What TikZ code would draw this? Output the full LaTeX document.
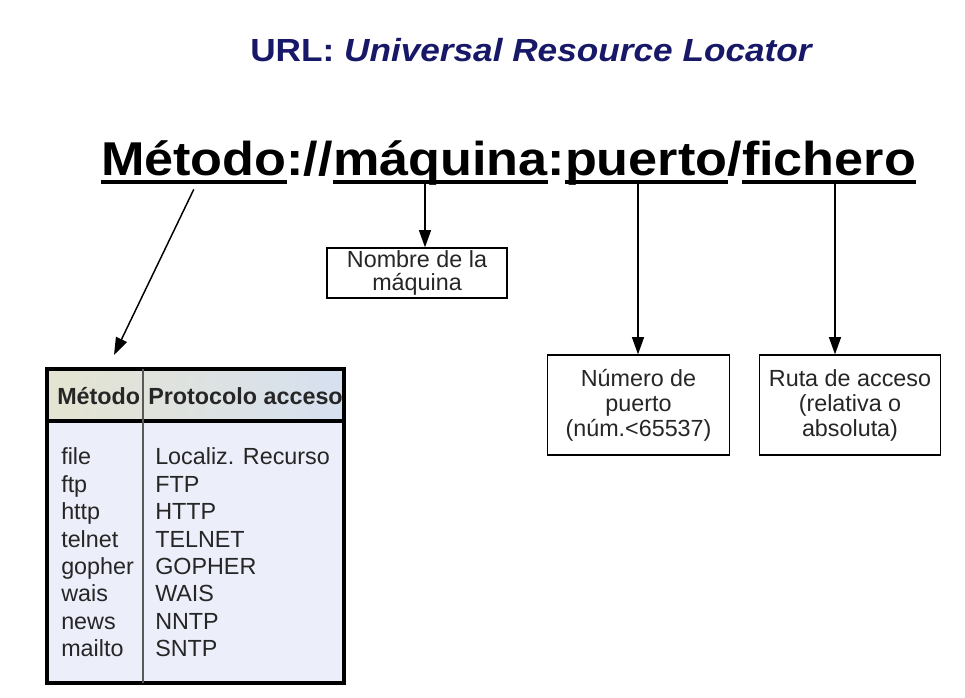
\documentclass[tikz,border=0pt]{standalone}
\usepackage{fontspec}
\setmainfont{Liberation Sans}
\newfontfamily\widefont{Liberation Sans}[FakeStretch=1.1]
\usetikzlibrary{positioning,arrows.meta}
\definecolor{urlblue}{RGB}{24,24,104}
\definecolor{cabecera}{RGB}{229,228,209}
\definecolor{cabecera2}{RGB}{214,224,240}
\definecolor{cuerpo}{RGB}{236,238,250}

\tikzstyle{parte} = [font=\widefont\bfseries\fontsize{35.6}{40}\selectfont,inner sep=0pt,outer sep=0pt]
\tikzstyle{caja} = [align=center,draw=black,line width=0.9pt,font=\fontsize{17.5}{18.75}\selectfont,rectangle,text centered,text=black!85]
\tikzstyle{celda} = [anchor=base west,inner sep=0pt,font=\fontsize{17.5}{20}\selectfont,text=black!85]
\tikzstyle{flecha} = [line width=1.1pt,-{Triangle[length=13pt,width=9pt]}]
\tikzstyle{subraya} = [line width=3pt]

\begin{document}
\begin{tikzpicture}[x=0.75pt,y=-0.75pt]
	\useasboundingbox [fill=white] (0,0) rectangle (965,698);
	% titulo
	\node (titulo) [anchor=base west,inner sep=0pt,text=urlblue,font=\widefont\bfseries\fontsize{24}{27}\selectfont] at (250,62) {URL: \textit{Universal Resource Locator}};
	% la URL
	\node (metodo) [parte,anchor=base west] at (101,176) {Método};
	\node (sep1) [parte,base right=0pt of metodo] {://};
	\node (maquina) [parte,base right=0pt of sep1] {máquina};
	\node (sep2) [parte,base right=0pt of maquina] {:};
	\node (puerto) [parte,base right=0pt of sep2] {puerto};
	\node (sep3) [parte,base right=0pt of puerto] {/};
	\node (fichero) [parte,base right=0pt of sep3] {fichero};
	\foreach \n in {metodo,maquina,puerto,fichero}
		\draw [subraya] ([yshift=-4.5pt]\n.base west) -- ([yshift=-4.5pt]\n.base east);
	% cajas
	\node (nombre) [caja,font=\fontsize{17.5}{17.5}\selectfont,minimum width=135pt,minimum height=37.5pt,inner sep=1pt] at (417,273) {Nombre de la\\máquina};
	\node (numero) [caja,minimum width=136pt,minimum height=75pt] at (638.5,405) {Número de\\puerto\\(núm.<65537)};
	\node (ruta) [caja,minimum width=136pt,minimum height=75pt] at (850,405) {Ruta de acceso\\(relativa o\\absoluta)};
	% flechas
	\coordinate (punta) at (114,355);
	\coordinate (pie2) at (425,184);
	\coordinate (pie3) at (638,184);
	\coordinate (pie4) at (835,184);
	\draw [flecha] ([yshift=-10pt]metodo.base) -- (punta);
	\draw [flecha] (pie2) -- (nombre.north -| pie2);
	\draw [flecha] (pie3) -- (numero.north -| pie3);
	\draw [flecha] (pie4) -- (ruta.north -| pie4);
	% tabla
	\fill [cuerpo] (47,369) rectangle (344,683);
	\shade [left color=cabecera,right color=cabecera2] (47,369) rectangle (344,421);
	\node (tabla) [draw=black,line width=3pt,minimum width=222.75pt,minimum height=235.5pt,inner sep=0pt] at (195.5,526) {};
	\draw [line width=2.5pt] (tabla.west |- 0,421) -- (tabla.east |- 0,421);
	\draw [line width=1.5pt,black!65] (143,369) -- (143,683);
	\node (cab1) [celda,font=\bfseries\fontsize{17.5}{20}\selectfont] at (57,405) {Método};
	\node (cab2) [celda,font=\bfseries\fontsize{17.5}{20}\selectfont] at (148,405) {Protocolo acceso};
	\foreach \met/\pro [count=\i] in {file/Localiz. Recurso,ftp/FTP,http/HTTP,telnet/TELNET,gopher/GOPHER,wais/WAIS,news/NNTP,mailto/SNTP} {
		\node (met\i) [celda] at (61,437.6+27.4*\i) {\met};
		\node (pro\i) [celda] at (155,437.6+27.4*\i) {\pro};
	}
\end{tikzpicture}
\end{document}
